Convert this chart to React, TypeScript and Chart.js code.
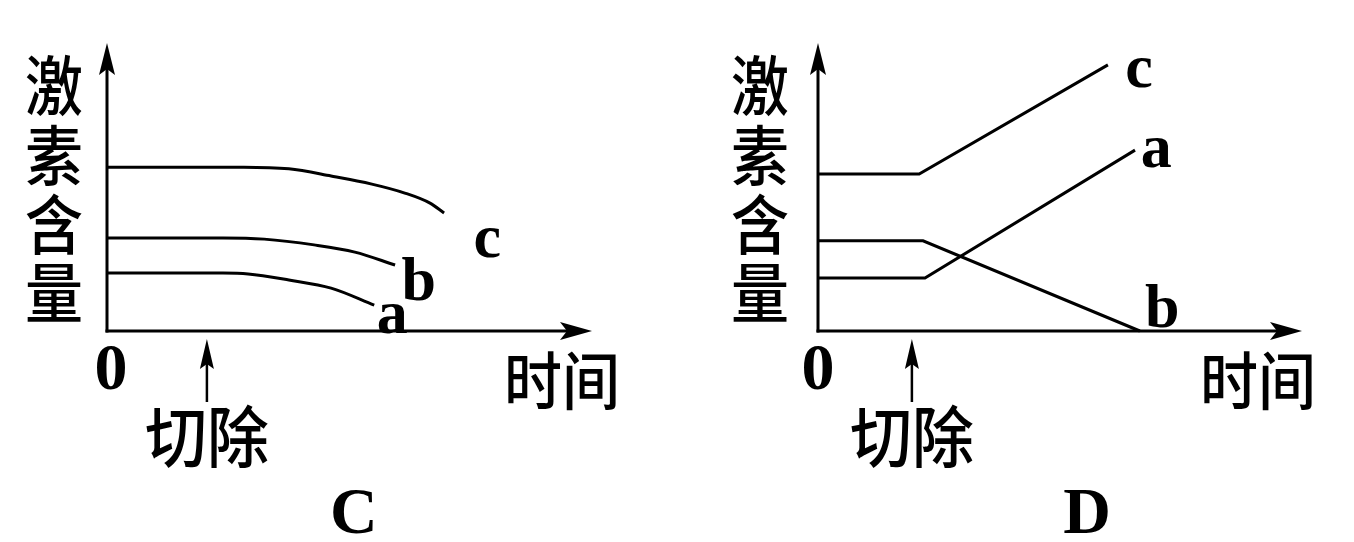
import React, { useEffect, useRef } from "react";
import { Chart, registerables } from "chart.js";

Chart.register(...registerables);

// ---- Panel C data (hormone level over time, smooth decline after removal) ----
const C_A_X = [0, 2.39, 2.91, 3.75, 4.62, 5.51];
const C_A_Y = [2.01, 2.01, 1.98, 1.77, 1.49, 0.9];
const C_B_X = [0, 2.39, 3.24, 4.27, 5.11, 5.94];
const C_B_Y = [3.23, 3.23, 3.19, 2.99, 2.74, 2.29];
const C_C_X = [0, 2.82, 3.75, 4.62, 5.46, 6.14, 6.66, 6.95];
const C_C_Y = [5.69, 5.69, 5.63, 5.38, 5.1, 4.79, 4.44, 4.1];

// ---- Panel D data (straight segments) ----
const D_A_X = [0, 2.21, 6.55];
const D_A_Y = [1.84, 1.84, 6.28];
const D_B_X = [0, 2.17, 6.65];
const D_B_Y = [3.13, 3.13, 0];
const D_C_X = [0, 2.09, 5.99];
const D_C_Y = [5.45, 5.45, 9.24];

// series label positions (data units)
const C_LABELS = [
  { t: "c", x: 7.84, y: 2.57 },
  { t: "b", x: 6.43, y: 1.08 },
  { t: "a", x: 5.88, y: -0.07 },
];
const D_LABELS = [
  { t: "c", x: 6.63, y: 8.47 },
  { t: "a", x: 6.99, y: 5.69 },
  { t: "b", x: 7.11, y: 0.14 },
];

const Y_TITLE = ["激", "素", "含", "量"];
const X_TITLE = "时间";
const CUT_TEXT = "切除";
const ORIGIN_TEXT = "0";

type Series = { x: number[]; y: number[] };
type Panel = {
  title: string;
  series: Series[];
  labels: { t: string; x: number; y: number }[];
  smooth: boolean;
  cutX: number;
  titleX: number;
  padding: { left: number; right: number; top: number; bottom: number };
  yTitleOffset: number;
  xTitleOffset: number;
  originOffset: number;
};

const PANELS: Panel[] = [
  {
    title: "C",
    series: [
      { x: C_C_X, y: C_C_Y },
      { x: C_B_X, y: C_B_Y },
      { x: C_A_X, y: C_A_Y },
    ],
    labels: C_LABELS,
    smooth: true,
    cutX: 2.06,
    titleX: 5.09,
    padding: { left: 107, right: 85, top: 43, bottom: 211 },
    yTitleOffset: 53,
    xTitleOffset: 30,
    originOffset: 4,
  },
  {
    title: "D",
    series: [
      { x: D_C_X, y: D_C_Y },
      { x: D_B_X, y: D_B_Y },
      { x: D_A_X, y: D_A_Y },
    ],
    labels: D_LABELS,
    smooth: false,
    cutX: 1.94,
    titleX: 5.56,
    padding: { left: 141, right: 52, top: 43, bottom: 211 },
    yTitleOffset: 58,
    xTitleOffset: 44,
    originOffset: 0,
  },
];

const SERIF = '"Liberation Serif", "Times New Roman", serif';
const CJK = '"Noto Sans CJK SC", sans-serif';

function decorPlugin(panel: Panel) {
  return {
    id: "decor" + panel.title,
    afterDraw(chart: any) {
      const ctx: CanvasRenderingContext2D = chart.ctx;
      const xs = chart.scales.x;
      const ys = chart.scales.y;
      const ox = xs.getPixelForValue(0);
      const oy = ys.getPixelForValue(0);
      const right = xs.getPixelForValue(10);
      const top = ys.getPixelForValue(10);
      ctx.save();
      ctx.fillStyle = "#000";
      ctx.strokeStyle = "#000";
      ctx.lineWidth = 3;
      ctx.lineCap = "butt";
      // y axis
      ctx.beginPath();
      ctx.moveTo(ox, oy + 1.5);
      ctx.lineTo(ox, top + 22);
      ctx.stroke();
      ctx.beginPath();
      ctx.moveTo(ox, top);
      ctx.lineTo(ox - 8, top + 32);
      ctx.lineTo(ox, top + 26);
      ctx.lineTo(ox + 8, top + 32);
      ctx.closePath();
      ctx.fill();
      // x axis
      ctx.beginPath();
      ctx.moveTo(ox - 1.5, oy);
      ctx.lineTo(right - 22, oy);
      ctx.stroke();
      ctx.beginPath();
      ctx.moveTo(right, oy);
      ctx.lineTo(right - 32, oy - 9);
      ctx.lineTo(right - 25, oy);
      ctx.lineTo(right - 32, oy + 9);
      ctx.closePath();
      ctx.fill();
      // cut arrow
      const ax = xs.getPixelForValue(panel.cutX);
      ctx.lineWidth = 2.5;
      ctx.beginPath();
      ctx.moveTo(ax, oy + 71);
      ctx.lineTo(ax, oy + 22);
      ctx.stroke();
      ctx.beginPath();
      ctx.moveTo(ax, oy + 8);
      ctx.lineTo(ax - 7, oy + 38);
      ctx.lineTo(ax, oy + 33);
      ctx.lineTo(ax + 7, oy + 38);
      ctx.closePath();
      ctx.fill();

      // series labels
      ctx.font = "bold 62px " + SERIF;
      ctx.textAlign = "center";
      ctx.textBaseline = "alphabetic";
      for (const l of panel.labels) {
        ctx.fillText(l.t, xs.getPixelForValue(l.x), ys.getPixelForValue(l.y));
      }
      // origin
      ctx.font = "bold 66px " + SERIF;
      ctx.fillText(ORIGIN_TEXT, ox + panel.originOffset, oy + 58);
      // panel title
      ctx.font = "bold 66px " + SERIF;
      ctx.fillText(panel.title, xs.getPixelForValue(panel.titleX), oy + 202);

      // Chinese texts
      ctx.font = "500 58px " + CJK;
      ctx.textBaseline = "middle";
      const yCenters = [85, 155, 224, 292];
      Y_TITLE.forEach((ch, i) => {
        ctx.save();
        ctx.translate(ox - panel.yTitleOffset, yCenters[i]);
        ctx.scale(1, 1.12);
        ctx.fillText(ch, 0, 0);
        ctx.restore();
      });
      ctx.save();
      ctx.translate(right - panel.xTitleOffset, oy + 49);
      ctx.scale(1, 1.08);
      ctx.fillText(X_TITLE, 0, 0);
      ctx.restore();
      ctx.save();
      ctx.translate(ax, oy + 106);
      ctx.scale(1, 1.08);
      ctx.font = "500 62px " + CJK;
      ctx.fillText(CUT_TEXT, 0, 0);
      ctx.restore();
      ctx.restore();
    },
  };
}

function PanelChart({ panel }: { panel: Panel }) {
  const ref = useRef<HTMLCanvasElement | null>(null);
  useEffect(() => {
    if (!ref.current) return;
    const chart = new Chart(ref.current, {
      type: "line",
      data: {
        datasets: panel.series.map((s, k) => ({
          label: "s" + k,
          data: s.x.map((x, i) => ({ x, y: s.y[i] })),
          borderColor: "#000",
          borderWidth: 3,
          pointRadius: 0,
          fill: false,
          tension: panel.smooth ? 0.4 : 0,
          cubicInterpolationMode: panel.smooth ? "monotone" : "default",
          clip: false as any,
        })),
      },
      options: {
        responsive: false,
        animation: false,
        devicePixelRatio: 1,
        events: [],
        layout: { padding: panel.padding },
        plugins: { legend: { display: false }, tooltip: { enabled: false } },
        scales: {
          x: { type: "linear", min: 0, max: 10, display: false },
          y: { type: "linear", min: 0, max: 10, display: false },
        },
      } as any,
      plugins: [decorPlugin(panel)],
    });
    return () => chart.destroy();
  }, [panel]);
  return <canvas ref={ref} width={677} height={542} style={{ display: "block", width: 677, height: 542 }} />;
}

export default function App() {
  return (
    <div style={{ position: "absolute", left: 0, top: 0, width: 1354, height: 542, display: "flex", background: "#fff" }}>
      {PANELS.map((p) => (
        <PanelChart key={p.title} panel={p} />
      ))}
    </div>
  );
}
